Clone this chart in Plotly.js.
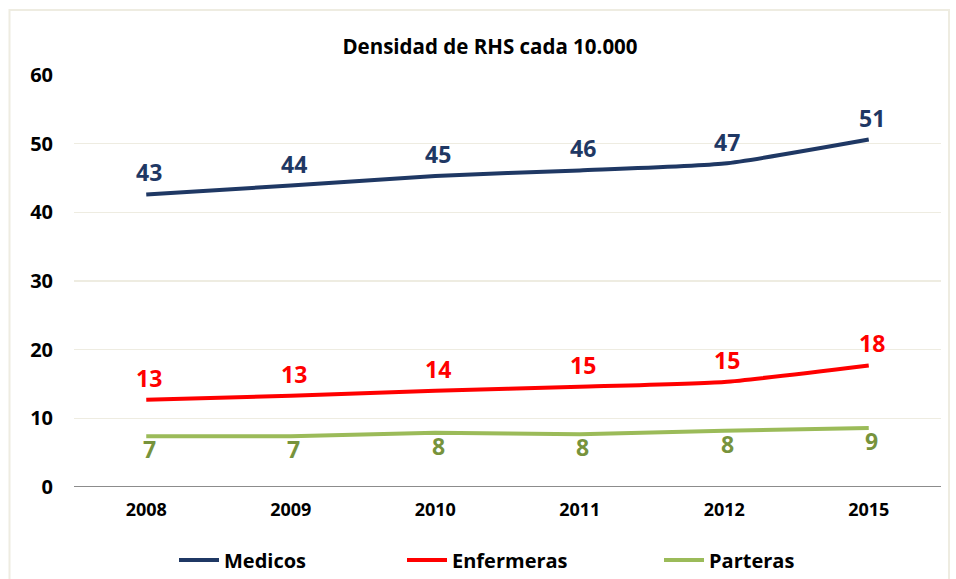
<!DOCTYPE html>
<html>
<head>
<meta charset="utf-8">
<script src="https://cdn.plot.ly/plotly-3.0.1.min.js"></script>
<style>html,body{margin:0;padding:0;background:#fff;}#chart{width:956px;height:579px;}</style>
</head>
<body>
<div id="chart"></div>
<script>
const years = ['2008', '2009', '2010', '2011', '2012', '2015'];
const medicos = [42.6, 43.9, 45.3, 46.1, 47.1, 50.6];
const enfermeras = [12.7, 13.3, 14.0, 14.6, 15.3, 17.7];
const parteras = [7.4, 7.4, 7.9, 7.7, 8.2, 8.6];
const seriesNames = ['Medicos', 'Enfermeras', 'Parteras'];

const W = 956, H = 579, L = 74, R = 15, T = 75, B = 92;
const pw = W - L - R, ph = H - T - B;
const px = x => (x - L) / pw;
const py = y => (H - B - y) / ph;
const cx = x => x / W;
const cy = y => 1 - y / H;

const font = '"Open Sans", "Liberation Sans", sans-serif';

const colors = [
  {line: '#1F3864', text: '#1F3864', shift: 22},
  {line: '#FF0000', text: '#FF0000', shift: 22},
  {line: '#9BBB59', text: '#77933C', shift: -13}
];
const allSeries = [medicos, enfermeras, parteras];
const legendIds = ['legend', 'legend2', 'legend3'];

const data = allSeries.map((vals, i) => ({
  type: 'scatter', mode: 'lines', name: seriesNames[i],
  x: years, y: vals,
  line: {color: colors[i].line, width: 4, shape: 'spline', smoothing: 0.5},
  legend: legendIds[i],
  hoverinfo: 'skip'
}));

const annotations = [];
allSeries.forEach((vals, i) => {
  vals.forEach((v, j) => {
    annotations.push({
      x: j, y: v, xref: 'x', yref: 'y',
      text: '<b>' + Math.round(v) + '</b>',
      showarrow: false, xanchor: 'center', yanchor: 'middle',
      xshift: 3, yshift: colors[i].shift,
      font: {family: font, size: 23, color: colors[i].text}
    });
  });
});

const legendBase = {
  orientation: 'h', xref: 'container', yref: 'container',
  y: cy(560), yanchor: 'middle', xanchor: 'left',
  font: {family: font, size: 20, color: '#000', weight: 'bold'},
  bgcolor: 'rgba(0,0,0,0)', borderwidth: 0, itemwidth: 40
};

const layout = {
  width: W, height: H,
  margin: {l: L, r: R, t: T, b: B, autoexpand: false},
  paper_bgcolor: '#fff', plot_bgcolor: '#fff',
  showlegend: true,
  title: {text: '<b>Densidad de RHS cada 10.000</b>', xref: 'container', x: cx(490), xanchor: 'center',
          yref: 'container', y: cy(47), yanchor: 'middle', font: {family: font, size: 20.5, color: '#000'}},
  xaxis: {
    type: 'category', range: [-0.5, 5.5], showgrid: false, zeroline: false,
    showline: false, ticks: '', ticklen: 0, automargin: false,
    tickfont: {family: font, size: 18, color: '#000', weight: 'bold'},
    ticklabelstandoff: 10,
    fixedrange: true
  },
  yaxis: {
    range: [0, 60], dtick: 10, showgrid: true, gridcolor: '#EEECE1', gridwidth: 1.5,
    zeroline: false, showline: false, ticks: '', automargin: false,
    tickfont: {family: font, size: 20, color: '#000', weight: 'bold'},
    ticklabelstandoff: 20,
    fixedrange: true
  },
  legend: Object.assign({}, legendBase, {x: cx(174)}),
  legend2: Object.assign({}, legendBase, {x: cx(402)}),
  legend3: Object.assign({}, legendBase, {x: cx(659)}),
  annotations: annotations,
  shapes: [
    {type: 'line', xref: 'paper', yref: 'y', x0: 0, x1: 1, y0: 0, y1: 0,
     line: {color: '#8C8C8C', width: 2}},
    {type: 'rect', xref: 'paper', yref: 'paper', x0: px(9.5), x1: px(949), y0: py(10), y1: py(600),
     line: {color: '#EEECE1', width: 2}, fillcolor: 'rgba(0,0,0,0)', layer: 'below'}
  ]
};

Plotly.newPlot('chart', data, layout, {displayModeBar: false, staticPlot: true});
</script>
</body>
</html>
